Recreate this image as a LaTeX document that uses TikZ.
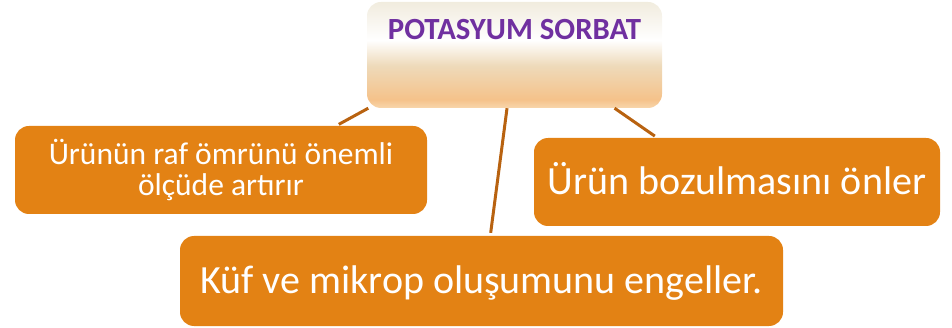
\documentclass[tikz,border=0pt]{standalone}
\usepackage{fontspec}
\setmainfont{Carlito}
\usetikzlibrary{positioning}
\definecolor{boxorange}{RGB}{227,130,20}
\definecolor{linkbrown}{RGB}{184,98,16}
\definecolor{titlepurple}{RGB}{112,48,160}
\definecolor{creamtop}{RGB}{241,236,222}
\definecolor{tanmid}{RGB}{238,218,186}
\definecolor{tanorange}{RGB}{245,194,138}
\definecolor{tanlight}{RGB}{248,214,172}
\pgfdeclareverticalshading{sorbatshade}{100bp}{color(0bp)=(tanlight); color(25bp)=(tanlight); color(29bp)=(tanorange); color(45bp)=(tanmid); color(57bp)=(white); color(75bp)=(creamtop); color(100bp)=(creamtop)}

\begin{document}
\begin{tikzpicture}[x=1pt,y=1pt]
                \tikzstyle{every node}+=[inner sep=0pt]
                \tikzstyle{topbox}=[rounded corners=14pt, shading=sorbatshade, minimum width=295pt,
                    text height=38pt, text depth=68pt, text=titlepurple,
                    font=\fontsize{30.8}{34}\selectfont\bfseries]
                \tikzstyle{leaf}=[rounded corners=14pt, fill=boxorange, text=white, align=center]
                \tikzstyle{link}=[linkbrown, line width=3pt, shorten >=3pt]
                \useasboundingbox (0,0) rectangle (952,-328);
                \node [topbox] (sorbat) at (514.5,-55) {POTASYUM SORBAT};
                \node [leaf, minimum width=412pt, minimum height=88pt,
                    font=\fontsize{31.5}{31}\selectfont] (raf) at (221,-170)
                    {Ürünün raf ömrünü önemli\\ölçüde artırır};
                \node [leaf, minimum width=406pt, minimum height=88pt, text height=26pt, text depth=0pt,
                    font=\fontsize{40}{44}\selectfont] (bozul) at (737,-182) {Ürün bozulmasını önler};
                \node [leaf, minimum width=603pt, minimum height=90pt, text height=26pt, text depth=0pt,
                    font=\fontsize{40}{44}\selectfont] (kuf) at (481.5,-281) {Küf ve mikrop oluşumunu engeller.};
                \draw [link] (sorbat.-160) -- (raf.21);
                \draw [link] (sorbat.-98) -- (kuf.79);
                \draw [link] (sorbat.-28.5) -- (bozul.151.5);
\end{tikzpicture}
\end{document}
